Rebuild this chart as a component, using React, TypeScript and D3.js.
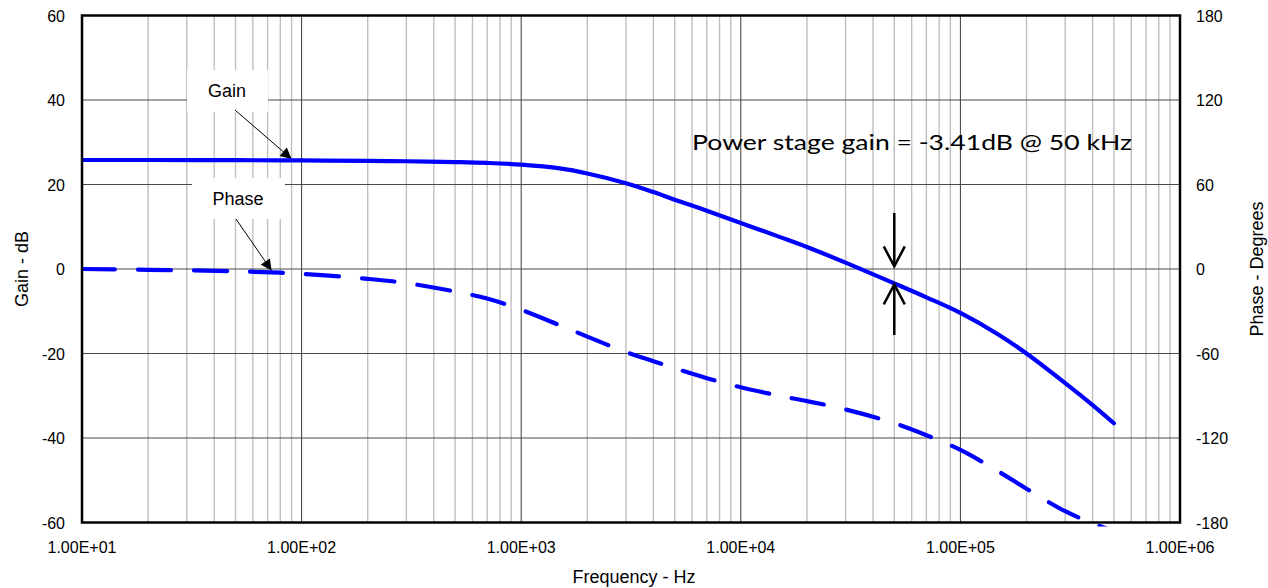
import React from 'react';
import * as d3 from 'd3';

const freqs = [10, 20, 50, 100, 200, 300, 500, 700, 1000, 1500, 2000, 3000, 4000, 5000, 7000, 10000, 15000, 20000, 30000, 50000, 70000, 100000, 150000, 200000, 300000, 400000, 500000];
const gainDb = [25.8, 25.8, 25.75, 25.7, 25.6, 25.5, 25.3, 25.1, 24.7, 23.8, 22.6, 20.3, 18.2, 16.4, 13.8, 10.9, 7.6, 5.2, 1.5, -3.41, -6.7, -10.4, -15.6, -20.0, -27.0, -32.2, -36.5];
const phaseDeg = [0, -0.6, -1.6, -3.4, -7, -10, -16, -21, -29, -40, -48, -59, -65.5, -70.5, -77.5, -84, -90, -93.8, -99.7, -109.5, -118, -128.5, -144, -156, -172, -180.5, -186];

const xTickValues = [10, 100, 1000, 10000, 100000, 1000000];
const xTickLabels = ['1.00E+01', '1.00E+02', '1.00E+03', '1.00E+04', '1.00E+05', '1.00E+06'];
const leftTicks = [60, 40, 20, 0, -20, -40, -60];
const rightTicks = [180, 120, 60, 0, -60, -120, -180];

const annotationText = 'Power stage gain = -3.41dB @ 50 kHz';
const markFreq = 50000;
const markGain = -3.41;

const W = 1268, H = 588;
const L = 82, R = 1180, T = 15.5, B = 522.5;
const FONT = '"Liberation Sans", Arial, sans-serif';

export default function App() {
  const x = d3.scaleLog().domain([10, 1e6]).range([L, R]);
  const yL = d3.scaleLinear().domain([-60, 60]).range([B, T]);
  const yR = d3.scaleLinear().domain([-180, 180]).range([B, T]);

  const minor: number[] = [];
  for (let d = 10; d < 1e6; d *= 10) for (let m = 2; m <= 9; m++) minor.push(d * m);
  const major = [100, 1000, 10000, 100000];

  const curve = d3.curveCatmullRom.alpha(0.5);
  const gainLine = d3.line<number>().x((_, i) => x(freqs[i])).y((v) => yL(v)).curve(curve);
  const phaseLine = d3.line<number>().x((_, i) => x(freqs[i])).y((v) => yR(v)).curve(curve);

  const mx = x(markFreq);
  const my = yL(markGain);

  return (
    <svg width={W} height={H} style={{ position: 'absolute', left: 0, top: 0, background: '#fff' }}>
      <defs>
        <clipPath id="plotclip">
          <rect x={L} y={T} width={R - L} height={B - T + 4} />
        </clipPath>
        <marker id="tri" viewBox="0 0 10 10" refX="10" refY="5" markerWidth="13" markerHeight="11" orient="auto" markerUnits="userSpaceOnUse">
          <path d="M0,0 L10,5 L0,10 Z" fill="#000" />
        </marker>
      </defs>
      {minor.map((f) => (
        <line key={'m' + f} x1={x(f)} x2={x(f)} y1={T} y2={B} stroke="#bfbfbf" strokeWidth={1.4} />
      ))}
      {major.map((f) => (
        <line key={'M' + f} x1={x(f)} x2={x(f)} y1={T} y2={B} stroke="#3a3a3a" strokeWidth={1} />
      ))}
      {leftTicks.slice(1, -1).map((v) => (
        <line key={'h' + v} x1={L} x2={R} y1={yL(v)} y2={yL(v)} stroke="#4a4a4a" strokeWidth={1.2} />
      ))}

      <rect x={187} y={70} width={81} height={42} fill="#fff" />
      <rect x={192} y={178} width={93} height={41} fill="#fff" />
      <text x={227} y={96.5} fontFamily={FONT} fontSize={18} textAnchor="middle" fill="#000">Gain</text>
      <text x={238} y={205} fontFamily={FONT} fontSize={18} textAnchor="middle" fill="#000">Phase</text>
      <line x1={235} y1={110} x2={x(90)} y2={yL(gainDb[3]) - 1.5} stroke="#000" strokeWidth={1} markerEnd="url(#tri)" />
      <line x1={236} y1={219} x2={x(73)} y2={yR(-2.2) - 1.5} stroke="#000" strokeWidth={1} markerEnd="url(#tri)" />

      <g clipPath="url(#plotclip)">
        <path d={gainLine(gainDb) || ''} fill="none" stroke="#0000ff" strokeWidth={4.2} strokeLinecap="round" strokeLinejoin="round" />
        <path d={phaseLine(phaseDeg) || ''} fill="none" stroke="#0000ff" strokeWidth={4.2} strokeLinecap="round" strokeDasharray="33 23" />
      </g>

      <text x={692} y={150} fontFamily='Lato, "Open Sans", sans-serif' fontSize={21} fill="#000" textLength={440} lengthAdjust="spacingAndGlyphs">{annotationText}</text>
      <g stroke="#000" strokeWidth={2.5} fill="none" strokeLinecap="butt">
        <line x1={mx} x2={mx} y1={213} y2={my - 17} />
        <polyline points={`${mx - 10.5},${my - 37} ${mx},${my - 17} ${mx + 10.5},${my - 37}`} />
        <line x1={mx} x2={mx} y1={my + 1} y2={335} />
        <polyline points={`${mx - 10.5},${my + 21} ${mx},${my + 1} ${mx + 10.5},${my + 21}`} />
      </g>

      <rect x={L} y={T} width={R - L} height={B - T} fill="none" stroke="#000" strokeWidth={2.5} />

      {leftTicks.map((v) => (
        <text key={'lt' + v} x={65} y={yL(v) + 6} fontFamily={FONT} fontSize={16} textAnchor="end" fill="#000">{v}</text>
      ))}
      {rightTicks.map((v) => (
        <text key={'rt' + v} x={1196} y={yR(v) + 6} fontFamily={FONT} fontSize={16} textAnchor="start" fill="#000">{v}</text>
      ))}
      {xTickValues.map((v, i) => (
        <text key={'xt' + v} x={x(v)} y={553} fontFamily={FONT} fontSize={16} textAnchor="middle" fill="#000">{xTickLabels[i]}</text>
      ))}

      <text x={634} y={583} fontFamily={FONT} fontSize={18} textAnchor="middle" fill="#000">Frequency - Hz</text>
      <text transform={`translate(28,${(T + B) / 2}) rotate(-90)`} fontFamily={FONT} fontSize={18} textAnchor="middle" fill="#000">Gain - dB</text>
      <text transform={`translate(1263,${(T + B) / 2}) rotate(-90)`} fontFamily={FONT} fontSize={18} textAnchor="middle" fill="#000">Phase - Degrees</text>
    </svg>
  );
}
